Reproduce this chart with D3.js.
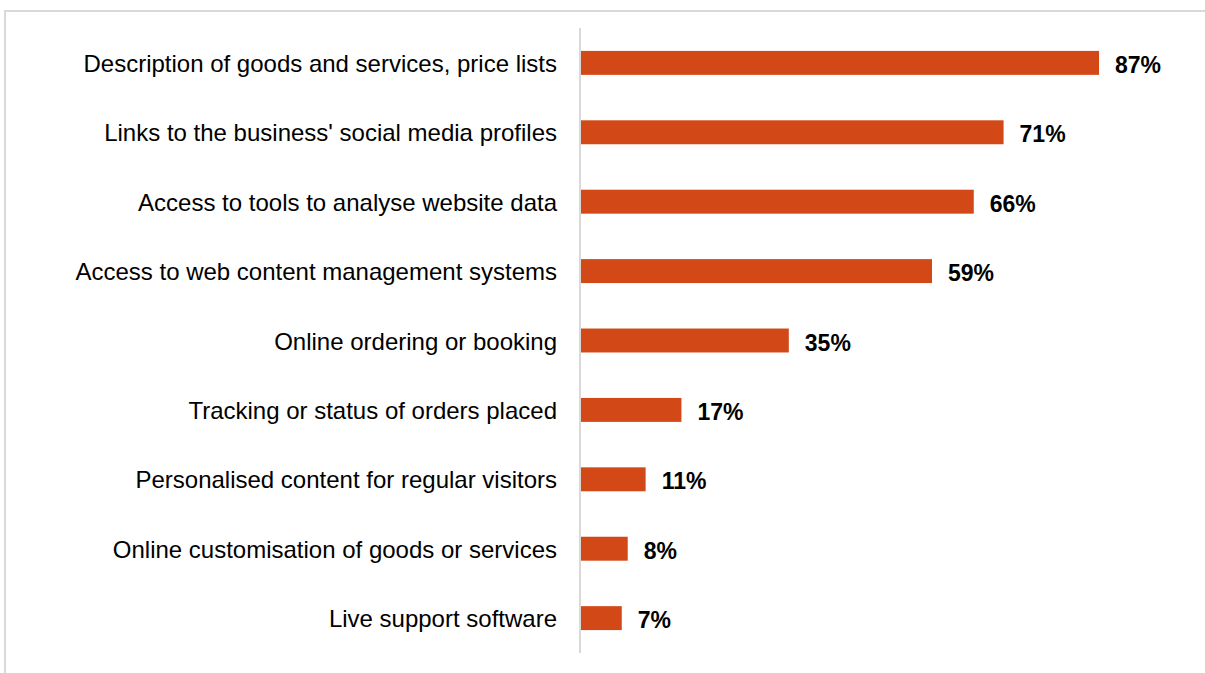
<!DOCTYPE html>
<html><head><meta charset="utf-8">
<script src="https://cdn.jsdelivr.net/npm/d3@7"></script>
<style>body{margin:0;background:#fff;}svg{display:block;}</style>
</head><body>
<script>
const categories = [
  "Description of goods and services, price lists",
  "Links to the business' social media profiles",
  "Access to tools to analyse website data",
  "Access to web content management systems",
  "Online ordering or booking",
  "Tracking or status of orders placed",
  "Personalised content for regular visitors",
  "Online customisation of goods or services",
  "Live support software"
];
const values = [87, 71, 66, 59, 35, 17, 11, 8, 7];
const valueLabels = ["87%","71%","66%","59%","35%","17%","11%","8%","7%"];

const W = 1205, H = 673;
const svg = d3.select("body").append("svg").attr("width", W).attr("height", H);

// frame
svg.append("rect").attr("x", 5).attr("y", 11).attr("width", W + 10).attr("height", H + 10)
  .attr("fill", "none").attr("stroke", "#d9d9d9").attr("stroke-width", 2);

const x0 = 580, y0 = 28, y1 = 653;
const x = d3.scaleLinear().domain([0, 100]).range([x0, x0 + 596.6]);
const y = d3.scaleBand().domain(categories).range([y0, y1]).paddingInner(0.655).paddingOuter(0.33);

const font = "'Liberation Sans', Arial, sans-serif";

svg.selectAll("rect.bar").data(categories).join("rect").attr("class", "bar")
  .attr("x", x(0)).attr("y", d => y(d))
  .attr("width", (d, i) => x(values[i]) - x(0)).attr("height", y.bandwidth())
  .attr("fill", "#D34817");

svg.append("line").attr("x1", x0).attr("x2", x0).attr("y1", y0).attr("y2", y1)
  .attr("stroke", "#d9d9d9").attr("stroke-width", 2);

svg.selectAll("text.cat").data(categories).join("text").attr("class", "cat")
  .attr("x", 557).attr("y", d => y(d) + y.bandwidth() / 2 + 9)
  .attr("text-anchor", "end").attr("font-family", font).attr("font-size", 24)
  .attr("fill", "#000").text(d => d);

svg.selectAll("text.val").data(categories).join("text").attr("class", "val")
  .attr("x", (d, i) => x(values[i]) + 16).attr("y", d => y(d) + y.bandwidth() / 2 + 10)
  .attr("font-family", font).attr("font-size", 23).attr("font-weight", "bold")
  .attr("fill", "#000").text((d, i) => valueLabels[i]);
</script>
</body></html>
